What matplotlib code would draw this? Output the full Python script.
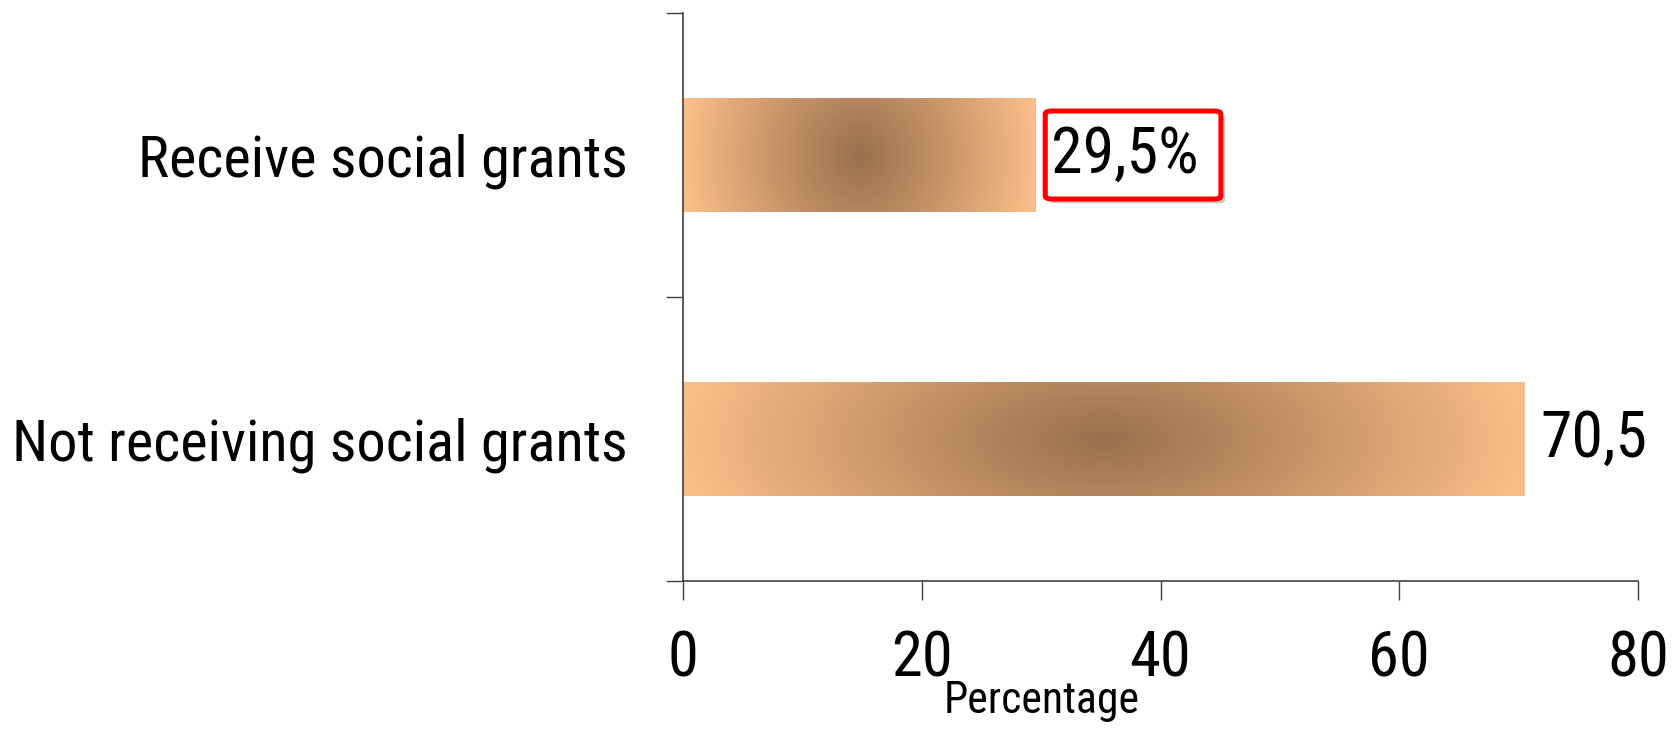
import numpy as np
import matplotlib
matplotlib.use("Agg")
import matplotlib.pyplot as plt
import matplotlib.patheffects as pe
from matplotlib import font_manager
from matplotlib.colors import LinearSegmentedColormap
from matplotlib.patches import FancyBboxPatch

# Data
categories = ["Not receiving social grants", "Receive social grants"]
values = [70.5, 29.5]
value_labels = ["70,5", "29,5%"]
xticks = [0, 20, 40, 60, 80]

names = {f.name for f in font_manager.fontManager.ttflist}
font = "Liberation Sans"
for cand in ["Liberation Sans Narrow", "Arial Narrow", "Roboto Condensed"]:
    if cand in names:
        font = cand
        break
plt.rcParams["font.family"] = [font, "DejaVu Sans"]

fig = plt.figure(figsize=(16.79, 7.31), dpi=100)
ax = fig.add_axes([0.4068, 0.2052, 0.9756 - 0.4068, 0.9822 - 0.2052])

ypos = np.arange(len(categories))
bars = ax.barh(ypos, values, height=0.4, color="none", edgecolor="none")

# radial shading: dark brown in the middle, light peach towards the ends
cmap = LinearSegmentedColormap.from_list("bar", ["#9a704e", "#c8956a", "#f9bd88"])
gx, gy = np.meshgrid(np.linspace(-1, 1, 400), np.linspace(-1, 1, 120))
shade = np.clip(np.sqrt(gx ** 2 + (0.3 * gy) ** 2), 0, 1)
for rect in bars:
    x0, y0 = rect.get_x(), rect.get_y()
    w, h = rect.get_width(), rect.get_height()
    im = ax.imshow(shade, cmap=cmap, vmin=0, vmax=1, aspect="auto",
                   extent=(x0, x0 + w, y0, y0 + h), zorder=2, interpolation="bilinear")
    im.set_clip_path(rect)

ax.set_xlim(0, 80)
ax.set_ylim(-0.5, 1.5)

for s in ["top", "right"]:
    ax.spines[s].set_visible(False)
for s in ["left", "bottom"]:
    ax.spines[s].set_color("#404040")
    ax.spines[s].set_linewidth(1.2)

ax.set_xticks(xticks)
ax.set_xticklabels([str(t) for t in xticks], fontsize=45)
ax.tick_params(axis="x", length=14, width=1.0, color="#404040", pad=21)

ax.set_yticks([-0.5, 0.5, 1.5])
ax.set_yticklabels([])
ax.set_yticks(ypos, minor=True)
ax.set_yticklabels(categories, minor=True, fontsize=42)
ax.tick_params(axis="y", which="major", length=12, width=1.0, color="#404040")
ax.tick_params(axis="y", which="minor", length=0, pad=40)

ax.set_xlabel("Percentage", fontsize=31.5)
ax.xaxis.set_label_coords(0.376, -0.175)

# value labels; the percentage one sits in a red rounded box with a shadow
labels = []
for i, (v, lab) in enumerate(zip(values, value_labels)):
    t = ax.text(v + 1.35, i, lab, fontsize=46, va="center", ha="left", zorder=7)
    labels.append(t)

fig.canvas.draw()
renderer = fig.canvas.get_renderer()
to_fig = fig.transFigure.inverted()
for t, lab in zip(labels, value_labels):
    if not lab.endswith("%"):
        continue
    bb = t.get_window_extent(renderer)
    cy = (bb.y0 + bb.y1) / 2
    fx0, fy0 = to_fig.transform((bb.x0 - 6, cy - 44))
    fx1, fy1 = to_fig.transform((bb.x1 + 22, cy + 44))
    box = FancyBboxPatch((fx0, fy0), fx1 - fx0, fy1 - fy0, transform=fig.transFigure,
                         boxstyle="round,pad=0,rounding_size=0.004", fc="white",
                         ec="#ff0000", lw=3.6, zorder=5, clip_on=False)
    box.set_path_effects([pe.SimplePatchShadow(offset=(3, -3), shadow_rgbFace="#808080",
                                               alpha=0.45), pe.Normal()])
    ax.add_patch(box)

fig.savefig("out.png", dpi=100)
